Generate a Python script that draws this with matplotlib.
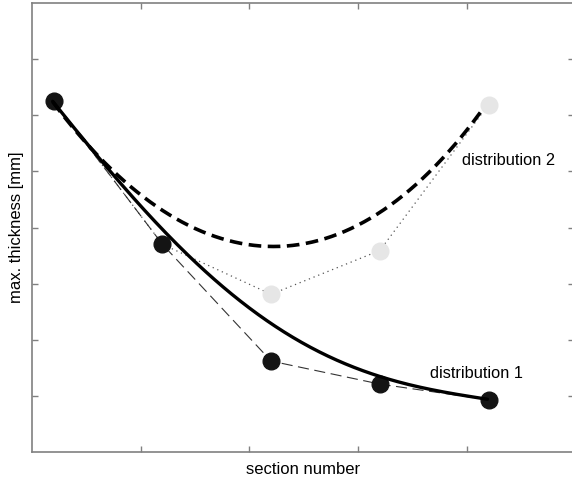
import matplotlib
matplotlib.use("Agg")
import matplotlib.pyplot as plt
import numpy as np

plt.rcParams['font.family'] = ['Liberation Sans', 'DejaVu Sans']

# measured sections
sections = [0.2, 1.2, 2.2, 3.2, 4.2]
dist1 = [6.25, 3.70, 1.62, 1.21, 0.93]
dist2 = [6.25, 3.70, 2.81, 3.59, 6.19]

# fitted trend curves
fit1_x = [0.19, 0.63, 1.19, 1.68, 2.19, 2.70, 3.18, 3.66, 4.19]
fit1_y = [6.25, 5.20, 4.00, 3.06, 2.30, 1.74, 1.35, 1.12, 0.94]
fit2_x = [0.19, 0.53, 0.75, 1.09, 1.33, 1.54, 2.00, 2.23, 2.46, 2.68, 2.99, 3.29, 3.57, 3.69, 4.00, 4.15]
fit2_y = [6.25, 5.41, 5.02, 4.45, 4.16, 3.95, 3.68, 3.67, 3.67, 3.81, 4.07, 4.36, 4.80, 5.07, 5.78, 6.09]

x_ticks = [1, 2, 3, 4]
y_ticks = [1, 2, 3, 4, 5, 6, 7]

fig = plt.figure(figsize=(5.72, 4.8), dpi=100)
ax = fig.add_axes([32/572, 28/480, 542/572, 449/480])

# smooth the read curve samples
def smooth(xs, ys, deg):
    c = np.polyfit(xs, ys, deg)
    xx = np.linspace(xs[0], xs[-1], 200)
    return xx, np.polyval(c, xx)

sx1, sy1 = smooth(fit1_x, fit1_y, 4)
sx2, sy2 = smooth(fit2_x, fit2_y, 4)

ax.plot(sections, dist2, linestyle=(0, (1, 3)), color='#555555', lw=0.9,
        marker='o', ms=12, mfc='#e6e6e6', mec='#e6e6e6', zorder=2)
ax.plot(sections, dist1, linestyle=(0, (10, 5)), color='#333333', lw=0.8,
        marker='o', ms=12, mfc='#141414', mec='#141414', zorder=3)
ax.plot(sx1, sy1, color='black', lw=2.4, solid_capstyle='round', zorder=4)
ax.plot(sx2, sy2, color='black', lw=2.6, linestyle=(0, (3.5, 1.8)), zorder=4)

ax.text(3.96, 5.2, 'distribution 2', fontsize=11.8, va='center', ha='left')
ax.text(3.66, 1.39, 'distribution 1', fontsize=11.8, va='center', ha='left')

ax.set_xlim(0, 542/108.7)
ax.set_ylim(0, 8)
ax.set_xticks(x_ticks)
ax.set_yticks(y_ticks)
ax.set_xticklabels([])
ax.set_yticklabels([])
ax.tick_params(direction='in', length=4, width=1, color='#808080',
               top=True, right=True)
for s in ax.spines.values():
    s.set_color('#808080')
    s.set_linewidth(1.2)

ax.set_xlabel('section number', fontsize=12, labelpad=4)
ax.set_ylabel('max. thickness [mm]', fontsize=12, labelpad=2)

fig.savefig('out.png', dpi=100)
